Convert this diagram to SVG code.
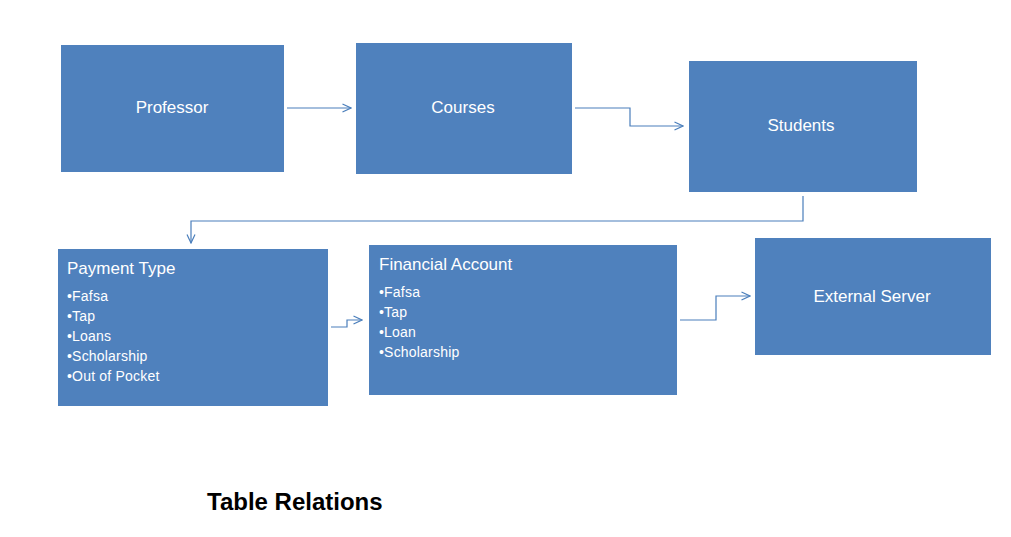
<svg xmlns="http://www.w3.org/2000/svg" width="1011" height="537" viewBox="0 0 1011 537">
<defs>
<style>
.box{fill:#4f81bd;}
.t{fill:#ffffff;font-family:"Liberation Sans",Arial,sans-serif;}
.c{text-anchor:middle;font-size:17px;}
.h{font-size:17px;}
.b{font-size:14px;letter-spacing:0.2px;}
.con{fill:none;stroke:#4a7ebb;stroke-width:1.2;}
</style>
<marker id="arr" viewBox="0 0 10 10" refX="9.5" refY="5" markerWidth="10" markerHeight="10" markerUnits="userSpaceOnUse" orient="auto">
<path d="M1,1 L9.5,5 L1,9" fill="none" stroke="#4a7ebb" stroke-width="1.2"/>
</marker>
</defs>
<rect width="1011" height="537" fill="#ffffff"/>
<g id="professor"><rect class="box" x="61" y="45" width="223" height="127"/><text class="t c" x="172" y="113">Professor</text></g>
<g id="courses"><rect class="box" x="356" y="43" width="216" height="131"/><text class="t c" x="463" y="113">Courses</text></g>
<g id="students"><rect class="box" x="689" y="61" width="228" height="131"/><text class="t c" x="801" y="131">Students</text></g>
<g id="payment-type"><rect class="box" x="58" y="249" width="270" height="157"/>
<text class="t h" x="67" y="274">Payment Type</text>
<text class="t b" x="67" y="301">•Fafsa</text>
<text class="t b" x="67" y="321">•Tap</text>
<text class="t b" x="67" y="341">•Loans</text>
<text class="t b" x="67" y="361">•Scholarship</text>
<text class="t b" x="67" y="381">•Out of Pocket</text>
</g>
<g id="financial-account"><rect class="box" x="369" y="245" width="308" height="150"/>
<text class="t h" x="379" y="270">Financial Account</text>
<text class="t b" x="379" y="297">•Fafsa</text>
<text class="t b" x="379" y="317">•Tap</text>
<text class="t b" x="379" y="337">•Loan</text>
<text class="t b" x="379" y="357">•Scholarship</text>
</g>
<g id="external-server"><rect class="box" x="755" y="238" width="236" height="117"/><text class="t c" x="872" y="302">External Server</text></g>
<g id="connectors">
<path class="con" marker-end="url(#arr)" d="M287,108 L351,108"/>
<path class="con" marker-end="url(#arr)" d="M575,108 L630,108 L630,126 L683,126"/>
<path class="con" marker-end="url(#arr)" d="M803,196 L803,221 L191,221 L191,243"/>
<path class="con" marker-end="url(#arr)" d="M331,327 L347,327 L347,320 L362,320"/>
<path class="con" marker-end="url(#arr)" d="M680,320 L716,320 L716,296 L750,296"/>
</g>
<text x="207" y="510" font-family="Liberation Sans,Arial,sans-serif" font-weight="bold" font-size="24" fill="#000000">Table Relations</text>
</svg>
